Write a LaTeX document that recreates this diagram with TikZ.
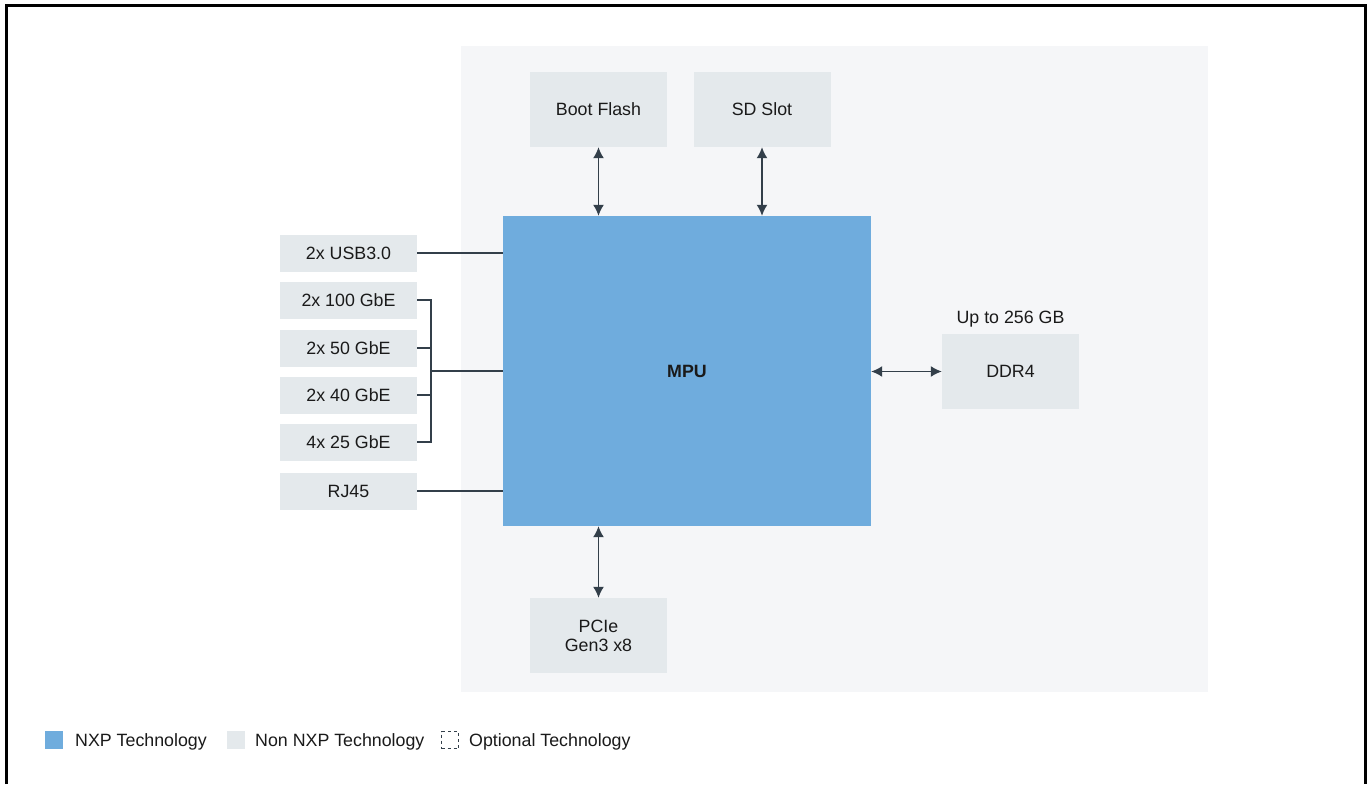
\documentclass[tikz,border=0pt]{standalone}
\usepackage{fontspec}
\setmainfont{Liberation Sans}
\usetikzlibrary{arrows.meta}
\definecolor{panel}{HTML}{F5F6F8}
\definecolor{nonnxp}{HTML}{E4E9EC}
\definecolor{nxp}{HTML}{6FACDD}
\definecolor{wire}{HTML}{333F4A}
\definecolor{txt}{HTML}{1A1A1A}
\tikzset{
  base/.style={font=\fontsize{17.8}{21}\selectfont, text=txt},
  nbox/.style={base, fill=nonnxp, minimum width=137pt, minimum height=75pt, inner sep=0pt, align=center},
  sbox/.style={base, fill=nonnxp, minimum width=137pt, minimum height=37pt, inner sep=0pt},
  wireline/.style={draw=wire, line width=1.5pt},
  arr/.style={wireline, {Latex[length=11pt,width=11pt]}-{Latex[length=11pt,width=11pt]}},
  lsq/.style={minimum width=18pt, minimum height=18pt, inner sep=0pt},
  ltxt/.style={base, anchor=west, inner sep=0pt}
}
\begin{document}
\begin{tikzpicture}[x=1pt,y=-1pt]
\useasboundingbox (0,0) rectangle (1367,784);
\fill[white] (0,0) rectangle (1367,784);
\draw[black, line width=3pt] (6,784) -- (6,6) -- (1365,6) -- (1365,784);
\fill[panel] (461,46) rectangle (1208,692);
% top boxes
\node[nbox] (boot) at (598.5,109.5) {Boot Flash};
\node[nbox] (sd) at (762,109.5) {SD Slot};
% MPU
\node[fill=nxp, minimum width=368pt, minimum height=310pt, inner sep=0pt, base, font=\fontsize{17.8}{21}\selectfont\bfseries] (mpu) at (687,371) {MPU};
% DDR4
\node[nbox] (ddr) at (1010.5,371.5) {DDR4};
\node[base, anchor=south, inner sep=0pt] (ddrlbl) at (1010.5,327) {Up to 256 GB};
% PCIe
\node[nbox, font=\fontsize{17.8}{19}\selectfont] (pcie) at (598.5,635.5) {PCIe\\Gen3 x8};
% left boxes
\node[sbox] (usb) at (348.5,253) {2x USB3.0};
\node[sbox] (g100) at (348.5,300) {2x 100 GbE};
\node[sbox] (g50) at (348.5,348) {2x 50 GbE};
\node[sbox] (g40) at (348.5,395) {2x 40 GbE};
\node[sbox] (g25) at (348.5,442) {4x 25 GbE};
\node[sbox] (rj) at (348.5,491) {RJ45};
% connectors
\draw[arr] (boot.south) -- (boot.south |- mpu.north);
\draw[arr] (sd.south) -- (sd.south |- mpu.north);
\draw[arr] (pcie.north) -- (pcie.north |- mpu.south);
\draw[arr] (mpu.east |- ddr.west) -- (ddr.west);
\draw[wireline] (usb.east) -- (usb.east -| mpu.west);
\draw[wireline] (rj.east) -- (rj.east -| mpu.west);
\coordinate (bx) at (431,371);
\draw[wireline] (g100.east) -| (bx);
\draw[wireline] (g25.east) -| (bx);
\draw[wireline] (g50.east) -- (g50.east -| bx);
\draw[wireline] (g40.east) -- (g40.east -| bx);
\draw[wireline] (bx) -- (bx -| mpu.west);
% legend
\node[lsq, fill=nxp] (lg1) at (54,740) {};
\node[ltxt] (lt1) at (75,741.5) {NXP Technology};
\node[lsq, fill=nonnxp] (lg2) at (236,740) {};
\node[ltxt] (lt2) at (255,741.5) {Non NXP Technology};
\node[lsq, draw=wire, dashed, line width=1pt, dash pattern=on 3pt off 3pt, minimum width=17pt, minimum height=17pt] (lg3) at (450,740) {};
\node[ltxt] (lt3) at (469,741.5) {Optional Technology};
\end{tikzpicture}
\end{document}
